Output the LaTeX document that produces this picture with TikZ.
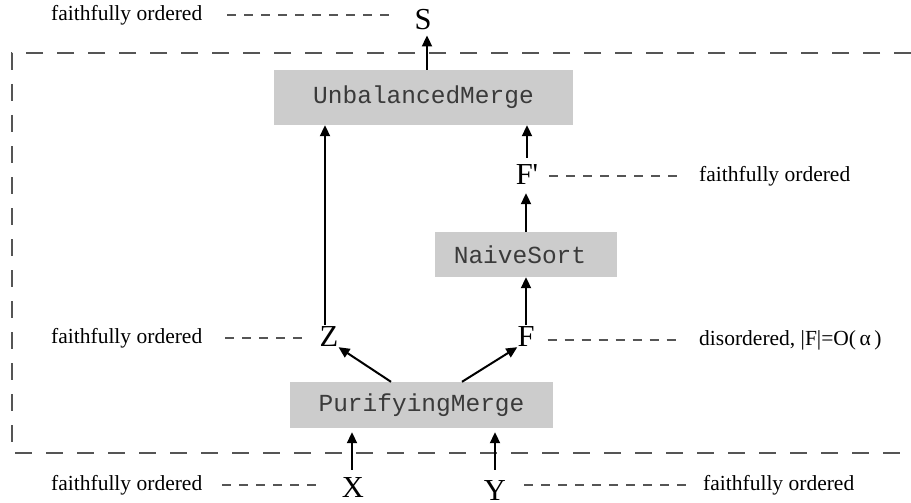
\documentclass[tikz,border=0pt]{standalone}
\usepackage{fontspec}
\setmainfont{Liberation Serif}
\newfontfamily\monof{Liberation Mono}
\usetikzlibrary{arrows.meta}
\definecolor{boxgray}{HTML}{CCCCCC}
\definecolor{dashgray}{HTML}{555555}
\definecolor{monotext}{HTML}{3A3A3A}
\begin{document}
\begin{tikzpicture}[x=1pt,y=-1pt,
  procbox/.style={fill=boxgray,inner sep=0pt,text=monotext,font=\monof\fontsize{24.5}{26}\selectfont},
  letter/.style={inner sep=0pt,font=\fontsize{30.5}{32}\selectfont},
  lbl/.style={inner sep=0pt,anchor=west,font=\fontsize{21.5}{24}\selectfont},
  arr/.style={line width=2pt,-{Triangle[length=11pt,width=10pt]}},
  lead/.style={line width=1.4pt,draw=dashgray,dash pattern=on 9pt off 8pt},
  frame/.style={line width=2pt,draw=dashgray,dash pattern=on 17pt off 14pt}]
\useasboundingbox (0,0) rectangle (911,503);
% frame
\draw[frame] (911,53) -- (12,53) -- (12,453) -- (911,453);
% boxes
\node[procbox,minimum width=299pt,minimum height=55pt] (um) at (423.5,97.5) {UnbalancedMerge};
\node[procbox,minimum width=182pt,minimum height=45pt] (ns) at (526,254.5) {\hspace*{-12pt}NaiveSort};
\node[procbox,minimum width=263pt,minimum height=46pt] (pm) at (421.5,405) {PurifyingMerge};
% letters
\node[letter] (s) at (423,20) {S};
\node[letter] (fp) at (527,175) {F\textquotesingle};
\node[letter] (z) at (329,337) {Z};
\node[letter] (f) at (526,337) {F};
\node[letter] (x) at (353,488) {X};
\node[letter] (y) at (495,491) {Y};
% labels
\node[lbl] (l1) at (51,15) {faithfully ordered};
\node[lbl] (l2) at (699,176) {faithfully ordered};
\node[lbl] (l3) at (51,338) {faithfully ordered};
\node[lbl] (l4) at (699,340) {disordered, |F|=O(\,α\,)};
\node[lbl] (l5) at (51,485) {faithfully ordered};
\node[lbl] (l6) at (703,485) {faithfully ordered};
% leaders
\draw[lead] ([xshift=25pt]l1.east) -- ([xshift=-20pt]l1.east -| s.west);
\draw[lead] ([xshift=11pt]fp.east |- l2.west) -- ([xshift=-19pt]l2.west);
\draw[lead] ([xshift=23pt]l3.east) -- ([xshift=-13pt]l3.east -| z.west);
\draw[lead] ([xshift=13pt]f.east |- l4.west) -- ([xshift=-19pt]l4.west);
\draw[lead] ([xshift=20pt]l5.east) -- ([xshift=-25pt]l5.east -| x.west);
\draw[lead] ([xshift=18pt]y.east |- l6.west) -- ([xshift=-16pt]l6.west);
% arrows
\draw[arr,shorten >=5pt] ([xshift=3.5pt]um.north) -- ([xshift=3.5pt]um.north |- s.south);
\draw[arr] ([xshift=-4pt,yshift=2pt]z.north) -- ([xshift=-4pt]z.north |- um.south);
\draw[arr] ([yshift=7pt]fp.north) -- (fp.north |- um.south);
\draw[arr,shorten >=8pt] (ns.north) -- (ns.north |- fp.south);
\draw[arr] ([yshift=2pt]f.north) -- (f.north |- ns.south);
\draw[arr] ([xshift=-30.5pt]pm.north) -- (z.south east);
\draw[arr] ([xshift=40.5pt]pm.north) -- (f.south west);
\draw[arr,shorten >=4pt] ([xshift=-1pt,yshift=8pt]x.north) -- ([xshift=-1pt]x.north |- pm.south);
\draw[arr,shorten >=4pt] ([yshift=11pt]y.north) -- (y.north |- pm.south);
\end{tikzpicture}
\end{document}
